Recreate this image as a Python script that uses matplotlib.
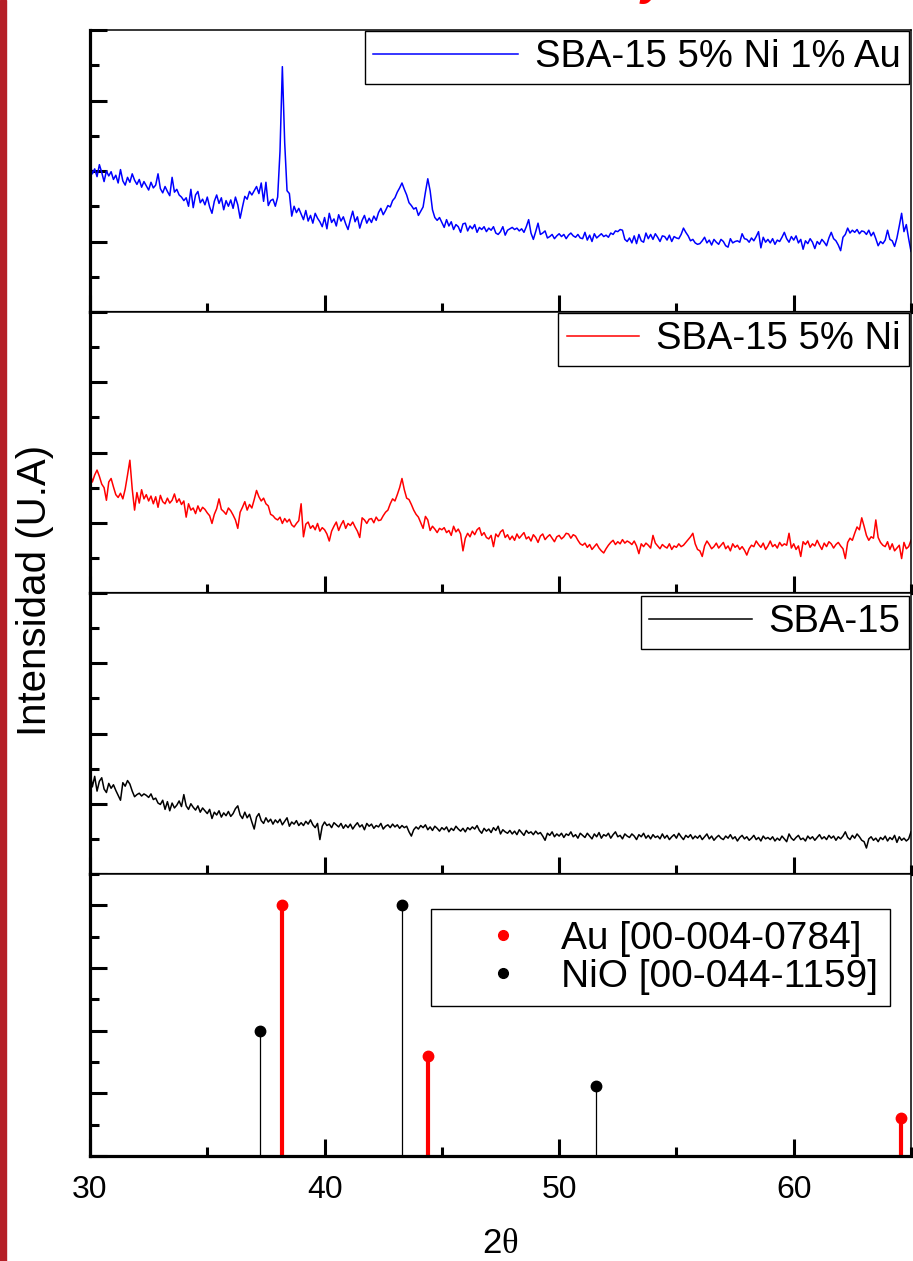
import numpy as np
import matplotlib.pyplot as plt
from matplotlib.lines import Line2D
from matplotlib.patches import Rectangle
from matplotlib.ticker import MultipleLocator

plt.rcParams['font.family'] = ['Liberation Sans', 'DejaVu Sans']
plt.rcParams['mathtext.fontset'] = 'custom'
plt.rcParams['mathtext.rm'] = 'Liberation Serif'

# 2theta scan grid, 0.1 deg step
two_theta = np.linspace(30, 65, 351)

# SBA-15 5% Ni 1% Au (blue)
sba_ni_au = [
    211, 196, 203, 192, 209, 198, 185, 200, 193, 199,
    188, 194, 183, 202, 186, 180, 191, 184, 196, 187,
    181, 188, 177, 185, 179, 173, 184, 176, 180, 196,
    175, 169, 178, 171, 165, 191, 170, 174, 166, 163,
    158, 162, 150, 174, 148, 166, 171, 155, 160, 152,
    163, 149, 140, 157, 166, 154, 162, 145, 158, 150,
    159, 147, 163, 152, 133, 149, 164, 160, 171, 166,
    172, 178, 168, 183, 157, 184, 151, 158, 160, 150,
    163, 228, 348, 240, 172, 168, 136, 150, 141, 147,
    139, 131, 144, 129, 137, 126, 140, 133, 128, 121,
    134, 118, 140, 127, 132, 122, 138, 129, 135, 125,
    117, 131, 143, 128, 135, 119, 130, 137, 126, 133,
    127, 136, 130, 141, 147, 138, 144, 151, 149, 158,
    162, 170, 176, 183, 174, 166, 155, 151, 146, 148,
    137, 143, 149, 170, 189, 172, 145, 134, 130, 134,
    127, 120, 131, 122, 128, 117, 124, 121, 113, 125,
    126, 115, 122, 118, 124, 113, 120, 117, 121, 114,
    119, 116, 121, 112, 110, 114, 121, 109, 116, 118,
    120, 117, 119, 115, 118, 113, 121, 131, 112, 103,
    114, 126, 110, 112, 115, 105, 107, 110, 104, 108,
    111, 107, 110, 104, 109, 112, 108, 106, 110, 105,
    104, 113, 102, 109, 100, 111, 105, 108, 111, 107,
    109, 106, 112, 110, 115, 114, 117, 116, 103, 100,
    105, 98, 108, 97, 110, 101, 99, 112, 104, 110,
    103, 111, 106, 100, 108, 107, 102, 109, 100, 107,
    105, 104, 110, 119, 113, 108, 101, 103, 98, 96,
    97, 101, 106, 98, 102, 95, 103, 99, 96, 103,
    100, 94, 92, 104, 98, 100, 101, 99, 111, 104,
    103, 99, 105, 101, 107, 114, 91, 106, 99, 103,
    98, 104, 96, 102, 100, 106, 113, 104, 99, 107,
    102, 108, 98, 103, 89, 101, 97, 104, 99, 90,
    100, 96, 103, 99, 94, 105, 113, 104, 101, 95,
    87, 106, 110, 119, 112, 116, 113, 117, 111, 115,
    114, 110, 116, 108, 113, 104, 94, 100, 97, 102,
    116, 103, 101, 93, 105, 122, 140, 114, 124, 104,
    86,
]

# SBA-15 5% Ni (red)
sba_ni = [
    172, 158, 168, 175, 166, 155, 150, 132, 158, 163,
    151, 140, 136, 142, 134, 148, 168, 189, 148, 118,
    143, 128, 147, 134, 140, 131, 138, 127, 137, 122,
    139, 130, 127, 135, 128, 132, 141, 129, 134, 126,
    131, 108, 127, 118, 121, 113, 124, 116, 122, 119,
    114, 110, 99, 112, 120, 134, 119, 116, 112, 121,
    117, 111, 104, 92, 115, 122, 130, 118, 126, 121,
    133, 146, 137, 131, 135, 127, 124, 112, 110, 106,
    104, 108, 99, 106, 101, 105, 97, 94, 99, 103,
    127, 80, 98, 101, 92, 96, 90, 99, 88, 93,
    90, 84, 74, 88, 95, 101, 89, 97, 103, 92,
    99, 96, 101, 94, 88, 79, 107, 104, 99, 105,
    106, 100, 108, 103, 104, 110, 115, 118, 127, 134,
    131, 140, 150, 163, 147, 135, 133, 126, 118, 112,
    108, 100, 92, 109, 104, 89, 95, 91, 86, 92,
    90, 93, 86, 89, 82, 95, 87, 91, 84, 60,
    78, 85, 80, 88, 83, 90, 93, 82, 86, 79,
    77, 82, 66, 84, 80, 87, 90, 79, 83, 76,
    81, 75, 84, 78, 82, 86, 77, 80, 74, 83,
    79, 72, 81, 84, 76, 80, 83, 78, 73, 80,
    82, 77, 80, 85, 84, 78, 83, 81, 75, 70,
    68, 71, 65, 69, 62, 66, 70, 64, 60, 57,
    63, 68, 72, 75, 69, 73, 70, 76, 71, 74,
    72, 69, 74, 67, 56, 70, 66, 71, 68, 64,
    82, 71, 67, 63, 69, 66, 64, 70, 62, 67,
    65, 70, 66, 68, 72, 76, 80, 85, 70, 62,
    60, 52, 67, 74, 69, 63, 66, 71, 64, 68,
    72, 63, 67, 60, 70, 65, 68, 62, 66, 61,
    54, 63, 68, 66, 74, 69, 65, 71, 62, 67,
    74, 66, 69, 64, 72, 67, 70, 68, 85, 64,
    70, 62, 67, 52, 73, 69, 74, 65, 70, 67,
    75, 68, 62, 71, 66, 73, 70, 64, 69, 72,
    67, 63, 49, 72, 78, 75, 85, 94, 90, 107,
    95, 82, 75, 80, 78, 104, 79, 72, 68, 66,
    73, 62, 70, 60, 64, 68, 49, 72, 63, 66,
    75,
]

# SBA-15 (black)
sba = [
    148, 124, 139, 118, 132, 137, 121, 116, 129, 122,
    127, 119, 112, 105, 130, 125, 133, 128, 118, 110,
    113, 115, 111, 114, 112, 109, 114, 106, 108, 101,
    99, 105, 92, 103, 90, 101, 94, 98, 104, 96,
    113, 97, 92, 100, 95, 91, 97, 88, 94, 90,
    86, 92, 79, 88, 84, 90, 81, 87, 83, 89,
    82, 86, 93, 97, 84, 79, 88, 80, 85, 74,
    64, 81, 86, 76, 72, 80, 74, 78, 71, 77,
    73, 78, 70, 75, 80, 68, 74, 71, 76, 69,
    73, 69, 75, 71, 77, 70, 66, 72, 49, 68,
    74, 69, 71, 66, 73, 70, 67, 72, 65, 70,
    66, 71, 64, 69, 73, 67, 70, 63, 72, 68,
    71, 65, 69, 67, 72, 64, 68, 70, 66, 71,
    67, 70, 65, 69, 66, 68, 60, 54, 63, 67,
    64, 69, 66, 70, 63, 67, 62, 68, 65, 61,
    66, 63, 67, 60, 65, 62, 68, 64, 61, 65,
    60, 66, 63, 67, 64, 69, 62, 58, 65, 61,
    64, 59, 66, 62, 68, 57, 63, 60, 58, 62,
    57, 61, 56, 63, 59, 55, 62, 58, 60, 56,
    61, 57, 59, 54, 48, 58, 55, 60, 53, 57,
    54, 58, 52, 57, 55, 60, 53, 56, 51, 58,
    55, 52, 58, 54, 50, 57, 53, 59, 51, 56,
    54, 58, 51, 56, 60, 53, 55, 50, 57, 54,
    52, 57, 54, 49, 56, 53, 58, 51, 55, 50,
    56, 52, 54, 50, 57, 51, 55, 49, 53, 56,
    51, 58, 53, 49, 55, 52, 56, 50, 54, 51,
    55, 49, 53, 57, 50, 54, 48, 52, 55, 51,
    49, 54, 51, 56, 50, 53, 47, 52, 55, 50,
    53, 48, 51, 55, 49, 52, 47, 54, 50, 52,
    49, 53, 47, 51, 48, 54, 50, 46, 57, 51,
    48, 52, 55, 49, 51, 47, 54, 50, 53, 48,
    52, 56, 50, 53, 49, 55, 51, 54, 48, 53,
    50, 54, 60, 52, 49, 55, 51, 57, 53, 48,
    46, 37, 50, 53, 48, 51, 46, 52, 49, 54,
    47, 52, 49, 55, 45, 53, 48, 51, 47, 50,
    60,
]

# reference patterns
au_pos = [38.19, 44.39, 64.58]
au_int = [100, 40, 15]
nio_pos = [37.25, 43.28, 51.55]
nio_int = [50, 100, 28]

W, H = 913, 1261
fig = plt.figure(figsize=(W / 100, H / 100), dpi=100)

# red strip on the left edge
fig.add_artist(Rectangle((0, 0), 6 / W, 1, transform=fig.transFigure,
                         color='#b51f27', zorder=0))
# title, almost entirely above the visible area (only the descenders show)
fig.text(285 / W, 1 + 5 / H, 'Difracción de Rayos', color='red', fontsize=32.5,
         weight='bold', style='italic', ha='left', va='baseline')

left, right = 90 / W, 911 / W
edges = [30, 312, 593, 874, 1156]
axes = []
for i in range(4):
    top = 1 - edges[i] / H
    bot = 1 - edges[i + 1] / H
    ax = fig.add_axes([left, bot, right - left, top - bot])
    ax.set_xlim(30, 65)
    ax.xaxis.set_major_locator(MultipleLocator(10))
    ax.xaxis.set_minor_locator(MultipleLocator(5))
    for s in ['left', 'bottom']:
        ax.spines[s].set_linewidth(2.3)
    for s in ['top', 'right']:
        ax.spines[s].set_linewidth(1.1)
    ax.tick_params(which='both', direction='in', width=2.2, top=False, right=False,
                   labelleft=False, labelbottom=(i == 3), labelsize=23, pad=14)
    ax.tick_params(which='major', length=12)
    ax.tick_params(which='minor', length=6.5)
    axes.append(ax)

series = [(sba_ni_au, 'blue', 'SBA-15 5% Ni 1% Au', 31, 3.78),
          (sba_ni, 'red', 'SBA-15 5% Ni', 313, 1.89),
          (sba, 'black', 'SBA-15', 596, 2.68)]
for ax, (vals, col, lab, ytop, hl) in zip(axes[:3], series):
    ax.plot(two_theta, vals, color=col, lw=1.1, label=lab)
    ax.set_ylim(0, 400)
    ax.yaxis.set_major_locator(MultipleLocator(100))
    ax.yaxis.set_minor_locator(MultipleLocator(50))
    leg = ax.legend(loc='upper right', bbox_to_anchor=(909 / W, 1 - ytop / H),
                    bbox_transform=fig.transFigure, borderaxespad=0,
                    fontsize=27.5, fancybox=False, framealpha=1, edgecolor='black',
                    borderpad=0.22, handlelength=hl, handletextpad=0.45)
    leg.get_frame().set_linewidth(1.0)

ax = axes[3]
ax.vlines(nio_pos, 0, nio_int, color='black', lw=0.9)
ax.vlines(au_pos, 0, au_int, color='red', lw=3.0)
ax.plot(nio_pos, nio_int, 'o', color='black', ms=7.5, clip_on=False)
ax.plot(au_pos, au_int, 'o', color='red', ms=7.5, clip_on=False)
ax.set_ylim(0, 112.5)
ax.yaxis.set_major_locator(MultipleLocator(25))
ax.yaxis.set_minor_locator(MultipleLocator(12.5))
handles = [Line2D([], [], ls='none', marker='o', color='red', ms=7),
           Line2D([], [], ls='none', marker='o', color='black', ms=7)]
leg = ax.legend(handles, ['Au [00-004-0784]', 'NiO [00-044-1159]'],
                loc='upper right', bbox_to_anchor=(890 / W, 1 - 909 / H),
                bbox_transform=fig.transFigure, borderaxespad=0,
                fontsize=28, fancybox=False, framealpha=1, edgecolor='black',
                borderpad=0.3, handlelength=3.1, handletextpad=-0.04,
                labelspacing=0.05)
leg.get_frame().set_linewidth(1.0)

fig.text(35 / W, 1 - 590 / H, 'Intensidad (U.A)', rotation=90, ha='center',
         va='center', fontsize=29)
fig.text(500 / W, 1 - 1253 / H, r'2$\mathrm{\theta}$', ha='center', va='baseline',
         fontsize=25)

fig.savefig('out.png', dpi=100)
